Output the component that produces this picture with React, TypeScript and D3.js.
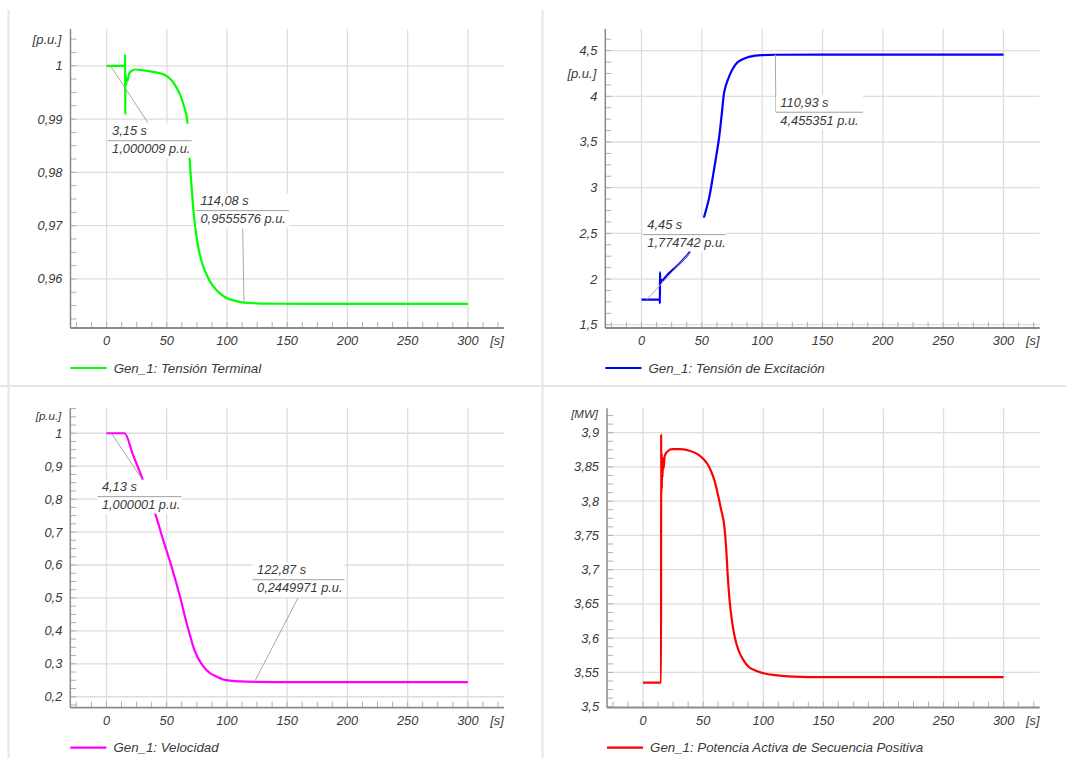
import * as d3 from 'd3';

const W = 1066;
const H = 758;

// shared time axis [s]
const xTicks = [0, 50, 100, 150, 200, 250, 300];
const xDomain: [number, number] = [-30, 330];

// Gen_1: Tensión Terminal [p.u.]
const termT = [0, 15.2, 15.35, 15.5, 15.65, 15.8, 16.0, 16.3, 16.7, 17.4, 18.5, 20.5, 24, 30, 40, 48, 52, 55, 58, 61, 63.5, 65.5, 67, 68, 69, 70.5, 72, 74, 76.5, 79.5, 83, 88, 94, 100, 107, 114.08, 125, 140, 170, 300];
const termV = [1, 1, 1.0021, 0.9909, 0.9985, 0.9962, 0.998, 0.9965, 0.9975, 0.9972, 0.9984, 0.999, 0.9993, 0.99915, 0.9988, 0.9983, 0.9977, 0.997, 0.9959, 0.9946, 0.993, 0.9914, 0.9896, 0.9862, 0.9822, 0.9775, 0.973, 0.969, 0.9655, 0.9628, 0.9608, 0.9588, 0.9573, 0.9564, 0.9559, 0.9555576, 0.95542, 0.95535, 0.95532, 0.95531];
const termTicks = [0.96, 0.97, 0.98, 0.99, 1];

// Gen_1: Tensión de Excitación [p.u.]
const excT = [0, 15.2, 15.25, 15.35, 15.5, 15.65, 15.85, 16.3, 17, 18.5, 21, 25, 30, 35, 38.5, 45, 51.6, 54, 56.3, 58.5, 60.5, 62.3, 63.8, 65, 66, 67.1, 68, 69.5, 71, 73, 76, 79, 83, 88, 93, 100, 110.93, 150, 300];
const excV = [1.774742, 1.774742, 1.735, 2.075, 1.94, 2.01, 1.955, 1.99, 1.985, 2.0, 2.04, 2.09, 2.15, 2.22, 2.27, 2.44, 2.668, 2.78, 2.905, 3.07, 3.23, 3.375, 3.5, 3.625, 3.744, 3.88, 4.0, 4.1, 4.16, 4.23, 4.31, 4.365, 4.4, 4.428, 4.442, 4.452, 4.455351, 4.4557, 4.4557];
const excTicks = [1.5, 2, 2.5, 3, 3.5, 4, 4.5];

// Gen_1: Velocidad [p.u.]
const velT = [0, 4.13, 15, 22, 30, 36, 41, 47, 54, 61, 66.5, 69.5, 72, 75, 78, 82, 86, 91, 97, 104, 111, 122.87, 140, 300];
const velV = [1, 1.000001, 1, 0.935, 0.861, 0.8, 0.75, 0.677, 0.596, 0.505, 0.424, 0.385, 0.353, 0.325, 0.305, 0.285, 0.272, 0.262, 0.2524, 0.2483, 0.2464, 0.2449971, 0.2446, 0.2445];
const velTicks = [0.2, 0.3, 0.4, 0.5, 0.6, 0.7, 0.8, 0.9, 1];

// Gen_1: Potencia Activa de Secuencia Positiva [MW]
const powT = [0, 15, 15.05, 15.25, 15.45, 15.65, 15.9, 16.2, 16.6, 17.1, 18, 20, 24, 30, 38, 45, 50, 55, 58.5, 62, 65, 67.5, 69, 70.5, 72, 74, 76.5, 79.5, 83.5, 88, 94, 101, 110, 125, 150, 300];
const powV = [3.5351, 3.5351, 3.898, 3.812, 3.87, 3.818, 3.865, 3.835, 3.862, 3.848, 3.866, 3.872, 3.876, 3.876, 3.874, 3.869, 3.862, 3.85, 3.835, 3.812, 3.787, 3.765, 3.735, 3.69, 3.655, 3.625, 3.6, 3.582, 3.568, 3.558, 3.5525, 3.5485, 3.546, 3.5438, 3.543, 3.543];
const powTicks = [3.5, 3.55, 3.6, 3.65, 3.7, 3.75, 3.8, 3.85, 3.9];

const loc = d3.formatLocale({ decimal: ',', thousands: '.', grouping: [3], currency: ['', ''] });
const fmtTick = loc.format('~g');
const fmtT = loc.format('.2f');
const fmtV = loc.format('.7g');

const FONT = "'Liberation Sans', Arial, sans-serif";
const TXT = '#3a3a3a';

type Note = { dx: number; dy: number; w: number; lx: number; ly: number };

const panels = [
  {
    key: 'term', color: '#00ff00', t: termT, v: termV, ticks: termTicks, minor: 0.0025,
    yDomain: [0.9508, 1.0069], unit: '[p.u.]', unitY: 10.5, unitSize: 13,
    box: { l: 70.5, r: 504, t: 29, b: 328 }, legendY: 368,
    label: 'Gen_1: Tensión Terminal',
    notes: [
      { dx: -2.8, dy: 75, w: 84, lx: 37.5, ly: 57 },
      { dx: -48, dy: -92, w: 93, lx: -1.3, ly: -74 },
    ] as Note[],
    noteAt: [3.15, 114.08], noteVal: [1.000009, 0.9555576], noteUnit: 'p.u.',
  },
  {
    key: 'exc', color: '#0000ff', t: excT, v: excV, ticks: excTicks, minor: 0.125,
    yDomain: [1.464, 4.737], unit: '[p.u.]', unitY: 44.3, unitSize: 13,
    box: { l: 605.3, r: 1039.7, t: 29, b: 328 }, legendY: 368,
    label: 'Gen_1: Tensión de Excitación',
    notes: [
      { dx: -4, dy: -65, w: 83, lx: 43, ly: -47 },
      { dx: 0.5, dy: 57.5, w: 87, lx: 0.5, ly: 57.5 },
    ] as Note[],
    noteAt: [4.45, 110.93], noteVal: [1.774742, 4.455351], noteUnit: 'p.u.',
  },
  {
    key: 'vel', color: '#ff00ff', t: velT, v: velV, ticks: velTicks, minor: 0.025,
    yDomain: [0.1667, 1.0758], unit: '[p.u.]', unitY: 7.7, unitSize: 11.5,
    box: { l: 70.3, r: 504, t: 408.3, b: 707.7 }, legendY: 747.7,
    label: 'Gen_1: Velocidad',
    notes: [
      { dx: -14, dy: 63.4, w: 84, lx: 30, ly: 45 },
      { dx: -1.9, dy: -102.2, w: 92, lx: 43.7, ly: -84.2 },
    ] as Note[],
    noteAt: [4.13, 122.87], noteVal: [1.000001, 0.2449971], noteUnit: 'p.u.',
  },
  {
    key: 'pow', color: '#ff0000', t: powT, v: powV, ticks: powTicks, minor: 0.0125,
    yDomain: [3.4985, 3.9356], unit: '[MW]', unitY: 6, unitSize: 11.5,
    box: { l: 607, r: 1039.7, t: 408.3, b: 707.7 }, legendY: 747.7,
    label: 'Gen_1: Potencia Activa de Secuencia Positiva',
    notes: [] as Note[],
    noteAt: [] as number[], noteVal: [] as number[], noteUnit: 'MW',
  },
];

function Panel({ p }: { p: (typeof panels)[number] }) {
  const { box } = p;
  const x = d3.scaleLinear().domain(xDomain).range([box.l, box.r]);
  const y = d3.scaleLinear().domain(p.yDomain).range([box.b, box.t]);
  const line = d3
    .line<number>()
    .x((_, i) => x(p.t[i]))
    .y((d) => y(d))
    .curve(d3.curveMonotoneX);

  const yMinor = d3
    .range(Math.ceil(p.yDomain[0] / p.minor), Math.floor(p.yDomain[1] / p.minor) + 1)
    .map((k) => k * p.minor);
  const xMinor = d3.range(Math.ceil(xDomain[0] / 12.5), Math.floor(xDomain[1] / 12.5) + 1).map((k) => k * 12.5);

  return (
    <g>
      {/* grid */}
      {xTicks.map((t) => (
        <line key={'gx' + t} x1={x(t)} x2={x(t)} y1={box.t} y2={box.b} stroke="#dedede" strokeWidth={1.3} />
      ))}
      {p.ticks.map((v) => (
        <line key={'gy' + v} x1={box.l} x2={box.r} y1={y(v)} y2={y(v)} stroke="#dedede" strokeWidth={1.3} />
      ))}
      {/* minor ticks */}
      {yMinor.map((v, k) => (
        <line key={'my' + k} x1={box.l} x2={box.l + 6} y1={y(v)} y2={y(v)} stroke="#b0b0b0" strokeWidth={1} />
      ))}
      {xMinor.map((t, k) => (
        <line key={'mx' + k} x1={x(t)} x2={x(t)} y1={box.b} y2={box.b - 6} stroke="#b0b0b0" strokeWidth={1} />
      ))}
      {/* axes */}
      <line x1={box.l} x2={box.l} y1={box.t} y2={box.b} stroke="#8a8a8a" strokeWidth={1.5} />
      <line x1={box.l} x2={box.r} y1={box.b} y2={box.b} stroke="#8a8a8a" strokeWidth={1.8} />
      {/* tick labels */}
      {p.ticks.map((v) => (
        <text key={'ty' + v} x={box.l - 8} y={y(v)} dy="0.35em" textAnchor="end" fontSize={12.8} fontStyle="italic" fill={TXT}>
          {fmtTick(v)}
        </text>
      ))}
      {xTicks.map((t) => (
        <text key={'tx' + t} x={x(t)} y={box.b + 17} textAnchor="middle" fontSize={12.8} fontStyle="italic" fill={TXT}>
          {fmtTick(t)}
        </text>
      ))}
      <text x={box.r - 7} y={box.b + 17} textAnchor="middle" fontSize={12.8} fontStyle="italic" fill={TXT}>
        [s]
      </text>
      <text x={box.l - 9} y={box.t + p.unitY} dy="0.35em" textAnchor="end" fontSize={p.unitSize} fontStyle="italic" fill={TXT}>
        {p.unit}
      </text>
      {/* curve */}
      <path d={line(p.v) ?? ''} fill="none" stroke={p.color} strokeWidth={2.2} strokeLinejoin="round" />
      {/* annotations */}
      {p.notes.map((n, k) => {
        const px = x(p.noteAt[k]);
        const py = y(p.noteVal[k]);
        const sx = px + n.dx;
        const sy = py + n.dy;
        return (
          <g key={'n' + k}>
            <line x1={px} y1={py} x2={px + n.lx} y2={py + n.ly} stroke="#a8a8a8" strokeWidth={1} />
            <rect x={sx} y={sy - 17} width={n.w} height={34} fill="#fff" />
            <line x1={sx} x2={sx + n.w} y1={sy} y2={sy} stroke="#a0a0a0" strokeWidth={1} />
            <text x={sx + 4.5} y={sy - 5.5} fontSize={12.8} fontStyle="italic" fill={TXT}>
              {fmtT(p.noteAt[k])} s
            </text>
            <text x={sx + 4.5} y={sy + 12.5} fontSize={12.8} fontStyle="italic" fill={TXT}>
              {fmtV(p.noteVal[k])} {p.noteUnit}
            </text>
          </g>
        );
      })}
      {/* legend */}
      <line x1={box.l} x2={x(0)} y1={p.legendY} y2={p.legendY} stroke={p.color} strokeWidth={2.2} />
      <text x={x(0) + 7} y={p.legendY} dy="0.35em" fontSize={13.3} fontStyle="italic" fill={TXT}>
        {p.label}
      </text>
    </g>
  );
}

export default function App() {
  return (
    <svg
      width={W}
      height={H}
      style={{ position: 'absolute', left: 0, top: 0, background: '#fff' }}
      fontFamily={FONT}
    >
      <rect width={W} height={H} fill="#fff" />
      <line x1={8.5} x2={8.5} y1={10} y2={H} stroke="#e6e6e6" strokeWidth={2} />
      <line x1={542.5} x2={542.5} y1={10} y2={H} stroke="#e6e6e6" strokeWidth={2} />
      <line x1={0} x2={W} y1={386} y2={386} stroke="#e6e6e6" strokeWidth={2} />
      {panels.map((p) => (
        <Panel key={p.key} p={p} />
      ))}
    </svg>
  );
}
